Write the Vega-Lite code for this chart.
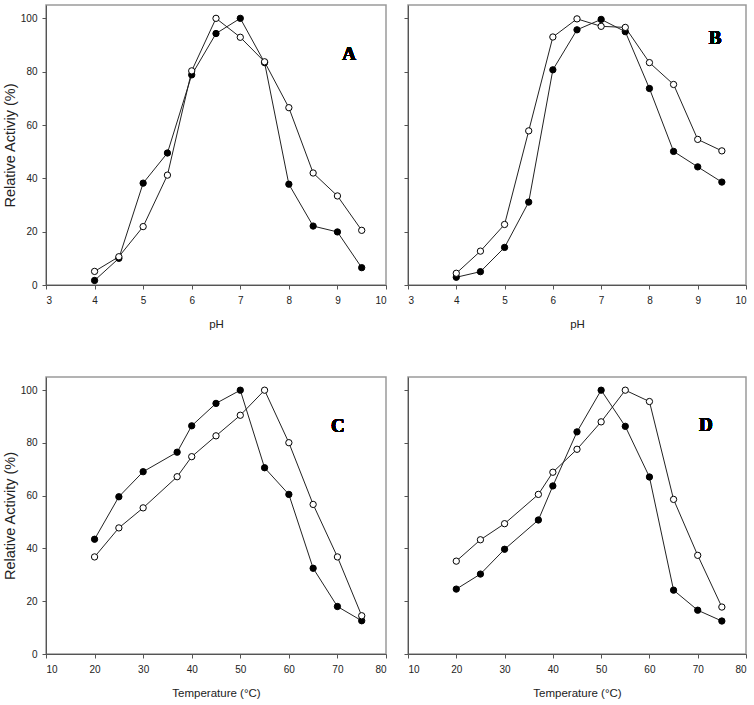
{
  "$schema": "https://vega.github.io/schema/vega-lite/v6.json",
  "background": "white",
  "padding": {"left": 1, "top": 4, "right": 5, "bottom": 5},
  "bounds": "flush",
  "columns": 2,
  "spacing": {"row": 92, "column": 22},
  "config": {
    "view": {"stroke": "#9a9a9a", "strokeWidth": 1.5},
    "axis": {
      "grid": false,
      "domainColor": "#555555",
      "domainWidth": 1,
      "tickColor": "#555555",
      "tickSize": 4,
      "labelFont": "Liberation Sans",
      "labelFontSize": 10,
      "labelColor": "#222222",
      "labelPadding": 5,
      "titleFont": "Liberation Sans",
      "titleFontWeight": "normal",
      "titleColor": "#222222"
    },
    "axisX": {"titlePadding": 13, "titleFontSize": 11.5, "labelPadding": 6},
    "axisY": {"titlePadding": 3, "titleFontSize": 14.5}
  },
  "datasets": {
    "A": [
      {"x": 4, "y": 1.7, "series": "filled"}, {"x": 4.5, "y": 10.0, "series": "filled"},
      {"x": 5, "y": 38.2, "series": "filled"}, {"x": 5.5, "y": 49.5, "series": "filled"},
      {"x": 6, "y": 78.8, "series": "filled"}, {"x": 6.5, "y": 94.3, "series": "filled"},
      {"x": 7, "y": 100, "series": "filled"}, {"x": 7.5, "y": 83.4, "series": "filled"},
      {"x": 8, "y": 37.8, "series": "filled"}, {"x": 8.5, "y": 22.1, "series": "filled"},
      {"x": 9, "y": 19.9, "series": "filled"}, {"x": 9.5, "y": 6.5, "series": "filled"},
      {"x": 4, "y": 5.1, "series": "open"}, {"x": 4.5, "y": 10.6, "series": "open"},
      {"x": 5, "y": 21.9, "series": "open"}, {"x": 5.5, "y": 41.2, "series": "open"},
      {"x": 6, "y": 80.3, "series": "open"}, {"x": 6.5, "y": 100, "series": "open"},
      {"x": 7, "y": 92.9, "series": "open"}, {"x": 7.5, "y": 83.7, "series": "open"},
      {"x": 8, "y": 66.5, "series": "open"}, {"x": 8.5, "y": 42.0, "series": "open"},
      {"x": 9, "y": 33.4, "series": "open"}, {"x": 9.5, "y": 20.5, "series": "open"}
    ],
    "B": [
      {"x": 4, "y": 2.9, "series": "filled"}, {"x": 4.5, "y": 5.0, "series": "filled"},
      {"x": 5, "y": 14.1, "series": "filled"}, {"x": 5.5, "y": 31.1, "series": "filled"},
      {"x": 6, "y": 80.7, "series": "filled"}, {"x": 6.5, "y": 95.7, "series": "filled"},
      {"x": 7, "y": 99.6, "series": "filled"}, {"x": 7.5, "y": 95.0, "series": "filled"},
      {"x": 8, "y": 73.7, "series": "filled"}, {"x": 8.5, "y": 50.1, "series": "filled"},
      {"x": 9, "y": 44.3, "series": "filled"}, {"x": 9.5, "y": 38.6, "series": "filled"},
      {"x": 4, "y": 4.4, "series": "open"}, {"x": 4.5, "y": 12.7, "series": "open"},
      {"x": 5, "y": 22.7, "series": "open"}, {"x": 5.5, "y": 57.8, "series": "open"},
      {"x": 6, "y": 93.0, "series": "open"}, {"x": 6.5, "y": 99.8, "series": "open"},
      {"x": 7, "y": 97.0, "series": "open"}, {"x": 7.5, "y": 96.6, "series": "open"},
      {"x": 8, "y": 83.4, "series": "open"}, {"x": 8.5, "y": 75.2, "series": "open"},
      {"x": 9, "y": 54.6, "series": "open"}, {"x": 9.5, "y": 50.3, "series": "open"}
    ],
    "C": [
      {"x": 20, "y": 43.5, "series": "filled"}, {"x": 25, "y": 59.6, "series": "filled"},
      {"x": 30, "y": 69.1, "series": "filled"}, {"x": 37, "y": 76.5, "series": "filled"},
      {"x": 40, "y": 86.5, "series": "filled"}, {"x": 45, "y": 95.0, "series": "filled"},
      {"x": 50, "y": 100, "series": "filled"}, {"x": 55, "y": 70.6, "series": "filled"},
      {"x": 60, "y": 60.5, "series": "filled"}, {"x": 65, "y": 32.5, "series": "filled"},
      {"x": 70, "y": 18.0, "series": "filled"}, {"x": 75, "y": 12.6, "series": "filled"},
      {"x": 20, "y": 36.8, "series": "open"}, {"x": 25, "y": 47.8, "series": "open"},
      {"x": 30, "y": 55.4, "series": "open"}, {"x": 37, "y": 67.2, "series": "open"},
      {"x": 40, "y": 74.8, "series": "open"}, {"x": 45, "y": 82.7, "series": "open"},
      {"x": 50, "y": 90.5, "series": "open"}, {"x": 55, "y": 100, "series": "open"},
      {"x": 60, "y": 80.1, "series": "open"}, {"x": 65, "y": 56.7, "series": "open"},
      {"x": 70, "y": 36.8, "series": "open"}, {"x": 75, "y": 14.5, "series": "open"}
    ],
    "D": [
      {"x": 20, "y": 24.6, "series": "filled"}, {"x": 25, "y": 30.3, "series": "filled"},
      {"x": 30, "y": 39.7, "series": "filled"}, {"x": 37, "y": 50.8, "series": "filled"},
      {"x": 40, "y": 63.7, "series": "filled"}, {"x": 45, "y": 84.2, "series": "filled"},
      {"x": 50, "y": 100, "series": "filled"}, {"x": 55, "y": 86.3, "series": "filled"},
      {"x": 60, "y": 67.1, "series": "filled"}, {"x": 65, "y": 24.2, "series": "filled"},
      {"x": 70, "y": 16.6, "series": "filled"}, {"x": 75, "y": 12.5, "series": "filled"},
      {"x": 20, "y": 35.2, "series": "open"}, {"x": 25, "y": 43.3, "series": "open"},
      {"x": 30, "y": 49.4, "series": "open"}, {"x": 37, "y": 60.5, "series": "open"},
      {"x": 40, "y": 68.9, "series": "open"}, {"x": 45, "y": 77.6, "series": "open"},
      {"x": 50, "y": 88.0, "series": "open"}, {"x": 55, "y": 100, "series": "open"},
      {"x": 60, "y": 95.7, "series": "open"}, {"x": 65, "y": 58.6, "series": "open"},
      {"x": 70, "y": 37.4, "series": "open"}, {"x": 75, "y": 17.8, "series": "open"}
    ]
  },
  "concat": [
    {
      "width": 340, "height": 280,
      "data": {"name": "A"},
      "encoding": {
        "x": {"field": "x", "type": "quantitative", "title": "pH",
              "scale": {"domain": [3, 10], "nice": false},
              "axis": {"values": [3, 4, 5, 6, 7, 8, 9, 10]}},
        "y": {"field": "y", "type": "quantitative", "title": "Relative Activiy (%)",
              "scale": {"domain": [0, 105], "nice": false},
              "axis": {"values": [0, 20, 40, 60, 80, 100]}}
      },
      "layer": [
        {"mark": {"type": "line", "color": "#222222", "strokeWidth": 1},
         "encoding": {"detail": {"field": "series"}}},
        {"mark": {"type": "point", "shape": "circle", "filled": true, "size": 40, "stroke": "black", "strokeWidth": 1, "opacity": 1},
         "encoding": {"fill": {"field": "series", "type": "nominal", "scale": {"domain": ["filled", "open"], "range": ["black", "white"]}, "legend": null}}},
        {"mark": {"type": "text", "font": "Liberation Serif", "fontWeight": "bold", "fontSize": 19, "fill": "black", "baseline": "middle", "align": "center"},
         "encoding": {"x": {"datum": 9.24}, "y": {"datum": 86.6}, "text": {"value": "A"}}}
      ]
    },
    {
      "width": 338, "height": 280,
      "data": {"name": "B"},
      "encoding": {
        "x": {"field": "x", "type": "quantitative", "title": "pH",
              "scale": {"domain": [3, 10], "nice": false},
              "axis": {"values": [3, 4, 5, 6, 7, 8, 9, 10]}},
        "y": {"field": "y", "type": "quantitative", "title": null,
              "scale": {"domain": [0, 105], "nice": false},
              "axis": {"values": [0, 20, 40, 60, 80, 100], "labels": false}}
      },
      "layer": [
        {"mark": {"type": "line", "color": "#222222", "strokeWidth": 1},
         "encoding": {"detail": {"field": "series"}}},
        {"mark": {"type": "point", "shape": "circle", "filled": true, "size": 40, "stroke": "black", "strokeWidth": 1, "opacity": 1},
         "encoding": {"fill": {"field": "series", "type": "nominal", "scale": {"domain": ["filled", "open"], "range": ["black", "white"]}, "legend": null}}},
        {"mark": {"type": "text", "font": "Liberation Serif", "fontWeight": "bold", "fontSize": 19, "fill": "black", "baseline": "middle", "align": "center"},
         "encoding": {"x": {"datum": 9.36}, "y": {"datum": 92.5}, "text": {"value": "B"}}}
      ]
    },
    {
      "width": 340, "height": 277,
      "data": {"name": "C"},
      "encoding": {
        "x": {"field": "x", "type": "quantitative", "title": "Temperature (°C)",
              "scale": {"domain": [10, 80], "nice": false},
              "axis": {"values": [10, 20, 30, 40, 50, 60, 70, 80]}},
        "y": {"field": "y", "type": "quantitative", "title": "Relative Activity (%)",
              "scale": {"domain": [0, 105], "nice": false},
              "axis": {"values": [0, 20, 40, 60, 80, 100]}}
      },
      "layer": [
        {"mark": {"type": "line", "color": "#222222", "strokeWidth": 1},
         "encoding": {"detail": {"field": "series"}}},
        {"mark": {"type": "point", "shape": "circle", "filled": true, "size": 40, "stroke": "black", "strokeWidth": 1, "opacity": 1},
         "encoding": {"fill": {"field": "series", "type": "nominal", "scale": {"domain": ["filled", "open"], "range": ["black", "white"]}, "legend": null}}},
        {"mark": {"type": "text", "font": "Liberation Serif", "fontWeight": "bold", "fontSize": 19, "fill": "black", "baseline": "middle", "align": "center"},
         "encoding": {"x": {"datum": 70.1}, "y": {"datum": 86.5}, "text": {"value": "C"}}}
      ]
    },
    {
      "width": 338, "height": 277,
      "data": {"name": "D"},
      "encoding": {
        "x": {"field": "x", "type": "quantitative", "title": "Temperature (°C)",
              "scale": {"domain": [10, 80], "nice": false},
              "axis": {"values": [10, 20, 30, 40, 50, 60, 70, 80]}},
        "y": {"field": "y", "type": "quantitative", "title": null,
              "scale": {"domain": [0, 105], "nice": false},
              "axis": {"values": [0, 20, 40, 60, 80, 100], "labels": false}}
      },
      "layer": [
        {"mark": {"type": "line", "color": "#222222", "strokeWidth": 1},
         "encoding": {"detail": {"field": "series"}}},
        {"mark": {"type": "point", "shape": "circle", "filled": true, "size": 40, "stroke": "black", "strokeWidth": 1, "opacity": 1},
         "encoding": {"fill": {"field": "series", "type": "nominal", "scale": {"domain": ["filled", "open"], "range": ["black", "white"]}, "legend": null}}},
        {"mark": {"type": "text", "font": "Liberation Serif", "fontWeight": "bold", "fontSize": 19, "fill": "black", "baseline": "middle", "align": "center"},
         "encoding": {"x": {"datum": 71.7}, "y": {"datum": 86.7}, "text": {"value": "D"}}}
      ]
    }
  ]
}
